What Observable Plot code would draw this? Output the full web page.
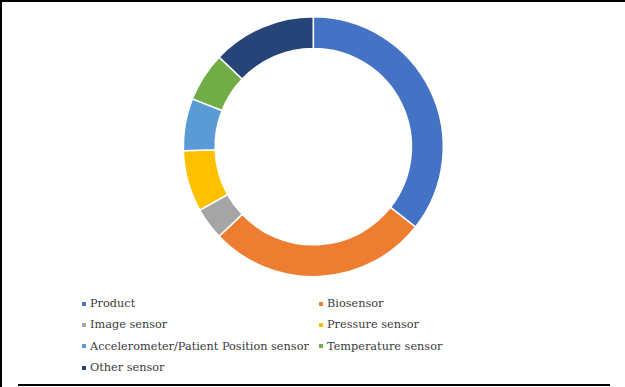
<!DOCTYPE html>
<html>
<head>
<meta charset="utf-8">
<script src="https://cdn.jsdelivr.net/npm/d3@7"></script>
<script src="https://cdn.jsdelivr.net/npm/@observablehq/plot@0.6"></script>
<style>
  html, body { margin: 0; padding: 0; background: #fff; }
  #wrap { position: relative; width: 625px; height: 387px; overflow: hidden; font-family: "DejaVu Serif", serif; }
  #chart { position: absolute; left: 0; top: 0; }
  #legend { position: absolute; left: 80px; top: 293px; display: grid; grid-template-columns: 237px auto; row-gap: 0; }
  .item { display: flex; align-items: center; height: 21.3px; font-size: 11.3px; color: #3a3a3a; white-space: nowrap; }
  .sw { width: 4px; height: 4px; margin-right: 4px; margin-left: 2px; flex: none; }
  .bt { position: absolute; background: #000; }
</style>
</head>
<body>
<div id="wrap">
  <div id="chart"></div>
  <div id="legend"></div>
  <div class="bt" style="left:1px;top:0;width:624px;height:2px"></div>
  <div class="bt" style="left:0;top:0;width:2px;height:387px"></div>
  <div class="bt" style="left:18px;top:384px;width:592px;height:2px"></div>
</div>
<script>
const categories = ["Product", "Biosensor", "Image sensor", "Pressure sensor", "Accelerometer/Patient Position sensor", "Temperature sensor", "Other sensor"];
const shares = [35.6, 27.3, 4.0, 7.6, 6.5, 6.1, 12.9];
const colors = ["#4472C4", "#ED7D31", "#A5A5A5", "#FFC000", "#5B9BD5", "#70AD47", "#264478"];

const data = categories.map((c, i) => ({category: c, value: shares[i]}));
const innerRatio = 0.755;

function donutMark(index, scales, values, dimensions) {
  const cx = scales.x(0), cy = scales.y(0);
  const R = Math.abs(scales.x(1) - scales.x(0));
  const color = scales.color || d3.scaleOrdinal(categories, colors);
  const pie = d3.pie().sort(null).value(d => d.value)(data);
  const arc = d3.arc().innerRadius(R * innerRatio).outerRadius(R);
  const g = d3.create("svg:g").attr("transform", `translate(${cx},${cy})`);
  g.selectAll("path").data(pie).join("path")
    .attr("d", arc)
    .attr("fill", d => color(d.data.category))
    .attr("stroke", "#fff")
    .attr("stroke-width", 1.5)
    .attr("stroke-linejoin", "round");
  return g.node();
}

const chart = Plot.plot({
  width: 625,
  height: 290,
  margin: 0,
  style: {background: "transparent", overflow: "visible"},
  x: {domain: [-1, 1], range: [313.3 - 130, 313.3 + 130], axis: null},
  y: {domain: [-1, 1], range: [146.7 + 130, 146.7 - 130], axis: null},
  color: {domain: categories, range: colors},
  marks: [
    Plot.dot(data, {x: () => 0, y: () => 0, fill: "category", r: 0}),
    donutMark
  ]
});
document.getElementById("chart").appendChild(chart);

const legend = document.getElementById("legend");
categories.forEach((c, i) => {
  const item = document.createElement("div");
  item.className = "item";
  const sw = document.createElement("span");
  sw.className = "sw";
  sw.style.background = colors[i];
  const t = document.createElement("span");
  t.textContent = c;
  item.appendChild(sw);
  item.appendChild(t);
  legend.appendChild(item);
});
</script>
</body>
</html>
